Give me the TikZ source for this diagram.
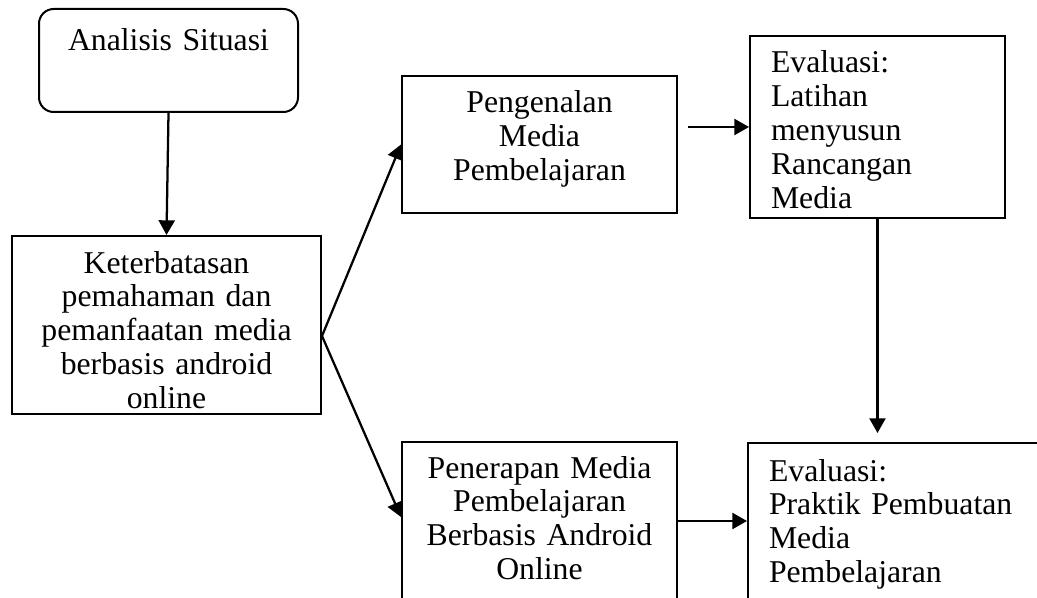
\documentclass[tikz,border=0pt]{standalone}
\usepackage{fontspec}
\setmainfont{Liberation Serif}
\usetikzlibrary{arrows.meta,calc}
\tikzset{
  kotak/.style={draw, line width=1.5pt, inner xsep=0pt, inner ysep=0pt, align=center, anchor=north west, font=\fontsize{23.8}{25.4}\selectfont},
  kiri/.style={align=left, inner xsep=15.75pt},
  panah/.style={line width=1.7pt, -{Triangle[length=11pt,width=12pt]}}
}
\begin{document}
\begin{tikzpicture}[x=0.75pt, y=-0.75pt]
\useasboundingbox (0,0) rectangle (1037,598);
\clip (0,0) rectangle (1037,598);

\node[kotak, rounded corners=11pt, text width=194.25pt, text height=31.5pt, text depth=45.75pt] (situasi) at (38,8) {Analisis Situasi};
\node[kotak, text width=231.75pt, text height=27.75pt, text depth=105.75pt] (kendala) at (11,235) {Keterbatasan\\pemahaman dan\\pemanfaatan media\\berbasis android\\online};
\node[kotak, text width=206.25pt, text height=27.75pt, text depth=75pt] (pengenalan) at (401,75) {Pengenalan\\Media\\Pembelajaran};
\node[kotak, kiri, text width=159.75pt, text height=27.75pt, text depth=108.75pt] (latihan) at (749,35) {Evaluasi:\\Latihan\\menyusun\\Rancangan\\Media};
\node[kotak, text width=206.25pt, text height=27pt, text depth=122.25pt] (penerapan) at (401,441) {Penerapan Media\\Pembelajaran\\Berbasis Android\\Online};
\node[kotak, kiri, text width=218.25pt, text height=28.5pt, text depth=120.75pt] (praktik) at (747,442) {Evaluasi:\\Praktik Pembuatan\\Media\\Pembelajaran};

\coordinate (cabang) at ($(kendala.north east)+(0,101)$);
\coordinate (masuk) at ($(penerapan.north west)+(0,76)$);
\coordinate (lanjut) at ($(pengenalan.east |- latihan.west)+(10,0)$);
\coordinate (turun) at ($(latihan.south |- praktik.north)+(0,-9)$);
\coordinate (keluar) at ($(penerapan.north east)+(0,80)$);

\draw[panah] (situasi.south) -- (kendala.north);
\draw[panah] (cabang) -- (pengenalan.west);
\draw[panah] (cabang) -- (masuk);
\draw[panah] (lanjut) -- (latihan.west);
\draw[panah] (latihan.south) -- (turun);
\draw[panah] (keluar) -- (keluar -| praktik.west);

\end{tikzpicture}
\end{document}
